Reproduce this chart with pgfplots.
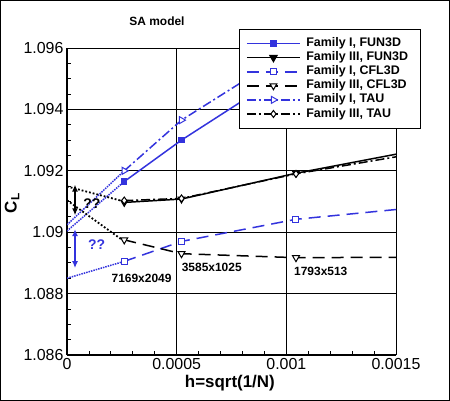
\documentclass[border=0pt]{standalone}
\usepackage{fontspec}
\setmainfont{Liberation Sans}
\usepackage{pgfplots}
\pgfplotsset{compat=1.18}
\usetikzlibrary{arrows.meta}
\definecolor{tpBlue}{HTML}{3333DD}

\begin{document}
\begin{tikzpicture}
\begin{axis}[
    set layers,
    scale only axis,
    width=329bp, height=307bp,
    at={(0,0)}, anchor=south west,
    xmin=0, xmax=0.0015, ymin=1.086, ymax=1.096,
    axis x line*=bottom, axis y line*=left,
    axis line style={line width=2.2bp},
    xtick={0,0.0005,0.001,0.0015},
    xticklabels={0,0.0005,0.001,0.0015},
    ytick={1.086,1.088,1.09,1.092,1.094,1.096},
    yticklabels={1.086,1.088,1.09,1.092,1.094,1.096},
    scaled x ticks=false, scaled y ticks=false,
    minor x tick num=4, minor y tick num=3,
    tick align=inside,
    major tick length=6bp, minor tick length=4bp,
    tick style={black, line width=0.8bp},
    grid=major,
    major grid style={black, line width=0.8bp},
    ticklabel style={font=\fontsize{16}{16}\selectfont},
    xlabel={h=sqrt(1/N)},
    xlabel style={font=\fontsize{17}{17}\selectfont\bfseries,
        at={(axis description cs:0.495,-0.091)}, anchor=center},
    ylabel={C\textsubscript{L}},
    ylabel style={font=\fontsize{17}{17}\selectfont\bfseries,
        at={(axis description cs:-0.167,0.495)}, anchor=center},
    legend cell align=left,
    legend style={at={(axis description cs:1.076,1.062)}, anchor=north east,
        draw=black, line width=0.9bp, fill=white,
        font=\fontsize{12.5}{12.5}\selectfont\bfseries,
        inner xsep=7bp, inner ysep=7bp, row sep=0bp,
        nodes={inner xsep=5.5bp, inner ysep=1.5bp, text height=8.6bp, text depth=2.5bp}},
    legend image post style={line width=1.8bp},
    legend image code/.code={
        \draw[mark repeat=2,mark phase=2]
        plot coordinates {(0bp,0bp) (26.5bp,0bp) (53bp,0bp)};},
]

% extrapolations to h=0
\addplot[tpBlue, densely dotted, line width=1.5bp, forget plot]
    coordinates {(0,1.09024) (0.000261,1.0920)};
\addplot[tpBlue, densely dotted, line width=1.5bp, forget plot]
    coordinates {(0,1.09004) (0.000261,1.09165)};
\addplot[tpBlue, densely dotted, line width=1.5bp, forget plot]
    coordinates {(0,1.0885) (0.000261,1.08905)};
\addplot[black, dotted, line width=1.8bp, forget plot]
    coordinates {(0,1.09149) (0.000261,1.0910)};
\addplot[black, dotted, line width=1.8bp, forget plot]
    coordinates {(0,1.09104) (0.000261,1.0897)};

% uncertainty bands
\addplot[black, line width=2bp, <->, >={Latex[length=7bp,width=6bp]}, forget plot]
    coordinates {(0.0000365,1.09155) (0.0000365,1.09055)};
\addplot[tpBlue, line width=2bp, <->, >={Latex[length=7bp,width=6bp]}, forget plot]
    coordinates {(0.0000365,1.0901) (0.0000365,1.08883)};

\addplot[tpBlue, line width=1.5bp, mark=square*, mark size=2.5bp,
    mark options={solid}]
    coordinates {(0.000261,1.09165) (0.000522,1.0930) (0.001044,1.0954) (0.002088,1.0990)};
\addlegendentry{Family I, FUN3D}

\addplot[black, line width=1.5bp, mark=triangle*, mark size=3.5bp,
    mark options={solid, rotate=180}]
    coordinates {(0.000261,1.09097) (0.000522,1.09108) (0.001044,1.09192) (0.002088,1.09334)};
\addlegendentry{Family III, FUN3D}

\addplot[tpBlue, line width=1.5bp, dash pattern=on 12bp off 7bp,
    mark=square*, mark size=3bp, mark options={solid, fill=white, line width=1bp}]
    coordinates {(0.000261,1.08905) (0.000522,1.0897) (0.001044,1.09042) (0.002088,1.09115)};
\addlegendentry{Family I, CFL3D}

\addplot[black, line width=1.5bp, dash pattern=on 12bp off 7bp,
    mark=triangle*, mark size=4bp, mark options={solid, fill=white, rotate=180, line width=1bp}]
    coordinates {(0.000261,1.08975) (0.000522,1.0893) (0.001044,1.08917) (0.002088,1.0892)};
\addlegendentry{Family III, CFL3D}

\addplot[tpBlue, line width=1.5bp, dash pattern=on 9bp off 3bp on 2bp off 3bp,
    mark=triangle*, mark size=4bp, mark options={solid, fill=white, rotate=-90, line width=1bp}]
    coordinates {(0.000261,1.0920) (0.000522,1.09365) (0.001044,1.0960) (0.002088,1.0990)};
\addlegendentry{Family I, TAU}

\addplot[black, line width=1.5bp, dash pattern=on 9bp off 3bp on 2bp off 3bp,
    mark=diamond*, mark size=3.5bp, mark options={solid, fill=white, line width=1bp}]
    coordinates {(0.000261,1.09103) (0.000522,1.0911) (0.001044,1.0919) (0.002088,1.09317)};
\addlegendentry{Family III, TAU}

\node[font=\fontsize{12}{12}\selectfont\bfseries] at (axis cs:0.00034,1.0885) {7169x2049};
\node[font=\fontsize{12}{12}\selectfont\bfseries] at (axis cs:0.00066,1.08884) {3585x1025};
\node[font=\fontsize{12}{12}\selectfont\bfseries] at (axis cs:0.001157,1.08871) {1793x513};
\node[tpBlue, font=\fontsize{14}{14}\selectfont\bfseries] at (axis cs:0.000135,1.08959) {??};
\node[black, font=\fontsize{14}{14}\selectfont\bfseries] at (axis cs:0.000113,1.09094) {??};
\end{axis}
\node[font=\fontsize{12}{12}\selectfont\bfseries] at (90bp,334bp) {SA model};
\draw[line width=1.5bp] (-66.25bp,-45.25bp) rectangle (382.25bp,354.25bp);
\end{tikzpicture}
\end{document}
